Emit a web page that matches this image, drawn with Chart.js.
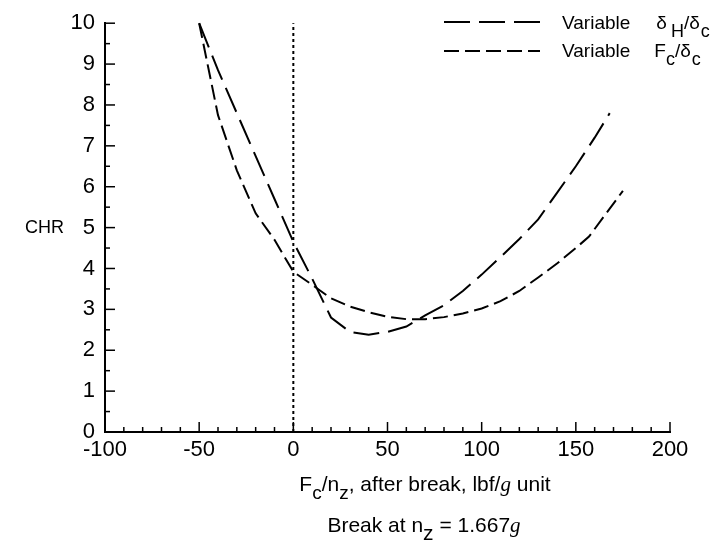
<!DOCTYPE html>
<html>
<head>
<meta charset="utf-8">
<script src="https://cdn.jsdelivr.net/npm/chart.js@4.4.1/dist/chart.umd.min.js"></script>
<style>
  html, body { margin: 0; padding: 0; background: #fff; }
  #wrap { width: 728px; height: 546px; }
</style>
</head>
<body>
<div id="wrap"><canvas id="chart" width="728" height="546"></canvas></div>
<script>
// axis ticks
const xTickLabels = [-100, -50, 0, 50, 100, 150, 200];
const yTickLabels = [0, 1, 2, 3, 4, 5, 6, 7, 8, 9, 10];

// Variable dH/dc
const deltaHX = [-50, -40, -30, -20, -10, 0, 10, 20, 30, 40, 50, 60, 70, 80, 90, 100, 110, 120, 130, 140, 150, 160, 168];
const deltaHY = [10, 8.85, 7.8, 6.75, 5.7, 4.65, 3.75, 2.8, 2.45, 2.38, 2.45, 2.58, 2.85, 3.1, 3.45, 3.85, 4.28, 4.72, 5.2, 5.85, 6.5, 7.2, 7.8];

// Variable Fc/dc
const forceX = [-50, -40, -30, -20, -10, 0, 10, 20, 30, 40, 50, 60, 70, 80, 90, 100, 110, 120, 130, 140, 150, 157, 175];
const forceY = [10, 7.75, 6.4, 5.35, 4.7, 3.92, 3.6, 3.27, 3.07, 2.93, 2.82, 2.76, 2.76, 2.81, 2.9, 3.02, 3.2, 3.45, 3.78, 4.12, 4.5, 4.78, 5.9];

// break line at zero
const breakX = [0, 0];
const breakY = [0, 10];

const FONT = "'Liberation Sans', Arial, sans-serif";

function toPoints(xs, ys) {
    return xs.map((x, i) => ({ x: x, y: ys[i] }));
}

function partFont(p, size) {
    if (p.g) return "italic " + size + "px 'Liberation Serif', serif";
    if (p.sub) return Math.round(size * p.sub) + "px " + FONT;
    return size + "px " + FONT;
}

// text made of pieces, some subscript or italic serif
function drawRich(ctx, parts, x, y, size, align) {
    let w = 0;
    parts.forEach(p => {
        ctx.font = partFont(p, size);
        w += ctx.measureText(p.t).width + (p.gap || 0);
    });
    let cx = align === "center" ? x - w / 2 : x;
    ctx.textBaseline = "alphabetic";
    ctx.textAlign = "left";
    parts.forEach(p => {
        ctx.font = partFont(p, size);
        let dy = p.sub ? size * 0.4 : 0;
        ctx.fillText(p.t, cx, y + dy);
        cx += ctx.measureText(p.t).width + (p.gap || 0);
    });
}

const decorations = {
    id: "decorations",
    afterDraw(chart) {
        const ctx = chart.ctx;
        const xs = chart.scales.x;
        const ys = chart.scales.y;
        const area = chart.chartArea;
        ctx.save();
        ctx.strokeStyle = "#000";
        ctx.fillStyle = "#000";
        ctx.lineWidth = 1.5;
        ctx.setLineDash([]);

        // inward ticks
        for (let v = -100; v <= 200; v += 10) {
            let px = xs.getPixelForValue(v);
            let len = v % 50 === 0 ? 10 : 5;
            ctx.beginPath();
            ctx.moveTo(px, area.bottom);
            ctx.lineTo(px, area.bottom - len);
            ctx.stroke();
        }
        for (let v = 0; v <= 10; v += 0.5) {
            let py = ys.getPixelForValue(v);
            let len = Number.isInteger(v) ? 10 : 5;
            ctx.beginPath();
            ctx.moveTo(area.left, py);
            ctx.lineTo(area.left + len, py);
            ctx.stroke();
        }

        // axis titles
        ctx.font = "18px " + FONT;
        ctx.textAlign = "left";
        ctx.textBaseline = "middle";
        ctx.fillText("CHR", 25, ys.getPixelForValue(5));

        drawRich(ctx, [
            { t: "F" }, { t: "c", sub: 0.9 }, { t: "/n" }, { t: "z", sub: 0.9 },
            { t: ", after break, lbf/" }, { t: "g", g: true }, { t: " unit" }
        ], 425, 491, 21, "center");

        drawRich(ctx, [
            { t: "Break at n" }, { t: "z", sub: 1 }, { t: " = 1.667" }, { t: "g", g: true }
        ], 424, 532, 21, "center");

        // legend
        const items = [
            { ds: chart.data.datasets[0], y: 22, base: 29,
              parts: [{ t: "Variable", gap: 26 }, { t: "\u03b4", gap: 4 }, { t: "H", sub: 0.95 }, { t: "/\u03b4", gap: 1 }, { t: "c", sub: 0.95 }] },
            { ds: chart.data.datasets[1], y: 51, base: 57,
              parts: [{ t: "Variable", gap: 24 }, { t: "F" }, { t: "c", sub: 0.95 }, { t: "/\u03b4", gap: 1 }, { t: "c", sub: 0.95 }] }
        ];
        items.forEach(it => {
            ctx.lineWidth = 2;
            ctx.setLineDash(it.ds.borderDash);
            ctx.beginPath();
            ctx.moveTo(444, it.y);
            ctx.lineTo(540, it.y);
            ctx.stroke();
            ctx.setLineDash([]);
            drawRich(ctx, it.parts, 562, it.base, 19, "left");
        });
        ctx.restore();
    }
};

const ctx = document.getElementById("chart");

const chart = new Chart(ctx, {
    type: "line",
    data: {
        datasets: [
        {
            label: "Variable dH/dc",
            data: toPoints(deltaHX, deltaHY),
            borderColor: "#000",
            borderWidth: 2,
            borderDash: [26, 9],
            pointRadius: 0,
            tension: 0,
            fill: false,
            clip: false
        },
        {
            label: "Variable Fc/dc",
            data: toPoints(forceX, forceY),
            borderColor: "#000",
            borderWidth: 2,
            borderDash: [15, 6],
            pointRadius: 0,
            tension: 0,
            fill: false,
            clip: false
        },
        {
            label: "break",
            data: toPoints(breakX, breakY),
            borderColor: "#000",
            borderWidth: 2,
            borderDash: [3, 3],
            pointRadius: 0,
            fill: false,
            clip: false
        }]
    },
    options: {
        responsive: false,
        animation: false,
        layout: { padding: { left: 0, top: 18, right: 58, bottom: 0 } },
        plugins: {
            legend: { display: false },
            tooltip: { enabled: false }
        },
        scales: {
            x: {
                type: "linear",
                min: -100,
                max: 200,
                afterBuildTicks(scale) {
                    scale.ticks = xTickLabels.map(v => ({ value: v }));
                },
                afterFit(scale) { scale.height = 114; },
                grid: { display: false, drawTicks: false },
                border: { display: true, color: "#000", width: 2 },
                ticks: {
                    color: "#000",
                    padding: 5,
                    maxRotation: 0,
                    font: { family: FONT, size: 22 }
                }
            },
            y: {
                min: 0,
                max: 10,
                afterBuildTicks(scale) {
                    scale.ticks = yTickLabels.map(v => ({ value: v }));
                },
                afterFit(scale) { scale.width = 105; },
                grid: { display: false, drawTicks: false },
                border: { display: true, color: "#000", width: 2 },
                ticks: {
                    color: "#000",
                    padding: 10,
                    font: { family: FONT, size: 22 }
                }
            }
        }
    },
    plugins: [decorations]
});
</script>
</body>
</html>
